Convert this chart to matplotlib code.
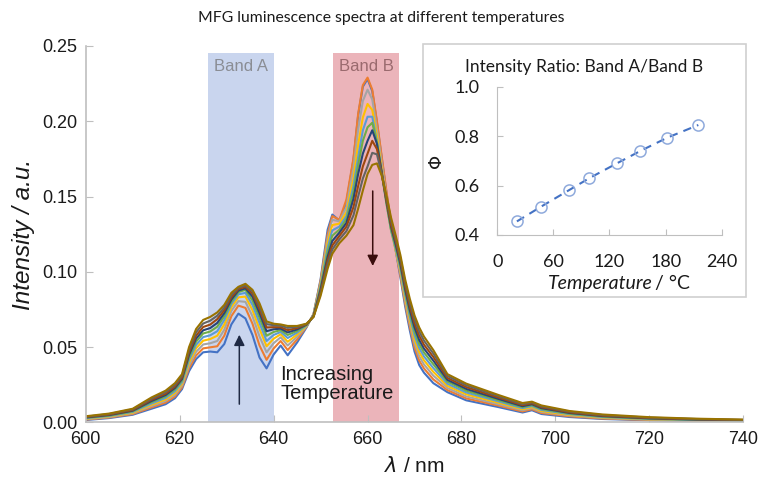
import numpy as np
import matplotlib
matplotlib.use("Agg")
import matplotlib.pyplot as plt
from matplotlib.patches import Rectangle

plt.rcParams['font.family'] = ['Liberation Sans', 'DejaVu Sans']

# wavelength grid (nm)
wavelength = [600, 605, 610, 614, 617, 619, 620.5, 622, 623.5, 625,
              626.5, 628, 629.5, 631, 632.5, 634, 635.5, 637, 638.5, 640,
              641.5, 643, 645, 647, 648.5, 650, 651.5, 652.5, 654, 655.5,
              657, 658, 659, 660, 661, 662, 663, 664, 665, 666,
              667, 668, 669, 670, 671, 672, 674, 677, 681, 688,
              693, 695, 697, 703, 710, 720, 730, 740]

# spectra, lowest temperature first
spec_1 = [.0015, .0028, .0050, .0090, .0120, .0160, .0220, .0340, .0420, .0465,
          .0470, .0465, .0520, .0650, .0722, .0690, .0580, .0430, .0358, .0450,
          .0510, .0445, .0530, .0630, .0720, .0950, .1280, .1380, .1340, .1460,
          .1745, .2040, .2230, .2280, .2200, .1990, .1760, .1530, .1320, .1140,
          .0960, .0770, .0610, .0470, .0380, .0330, .0260, .0200, .0146, .0100,
          .0065, .0080, .0055, .0035, .0022, .0013, .0008, .0005]
spec_2 = [.0018, .0032, .0055, .0099, .0131, .0172, .0232, .0359, .0444, .0491,
          .0498, .0505, .0575, .0705, .0775, .0760, .0655, .0510, .0415, .0490,
          .0540, .0480, .0550, .0635, .0718, .0940, .1250, .1370, .1345, .1480,
          .1755, .2050, .2240, .2290, .2210, .2000, .1770, .1540, .1325, .1145,
          .0975, .0790, .0635, .0498, .0410, .0358, .0285, .0214, .0159, .0110,
          .0072, .0087, .0062, .0040, .0025, .0015, .0010, .0006]
spec_3 = [.0021, .0035, .0060, .0108, .0142, .0184, .0244, .0378, .0468, .0517,
          .0525, .0540, .0615, .0740, .0805, .0800, .0705, .0570, .0465, .0525,
          .0565, .0510, .0568, .0638, .0715, .0928, .1220, .1345, .1335, .1430,
          .1690, .1945, .2135, .2210, .2145, .1945, .1725, .1500, .1300, .1140,
          .0990, .0810, .0658, .0525, .0438, .0385, .0310, .0228, .0172, .0119,
          .0080, .0094, .0069, .0045, .0029, .0017, .0012, .0008]
spec_4 = [.0024, .0039, .0064, .0117, .0152, .0196, .0256, .0398, .0492, .0542,
          .0553, .0575, .0650, .0765, .0830, .0835, .0745, .0620, .0505, .0555,
          .0585, .0535, .0583, .0641, .0712, .0916, .1190, .1310, .1320, .1395,
          .1620, .1845, .2025, .2115, .2075, .1900, .1685, .1465, .1275, .1140,
          .1005, .0830, .0680, .0552, .0466, .0412, .0335, .0242, .0186, .0129,
          .0087, .0101, .0075, .0049, .0032, .0020, .0013, .0009]
spec_5 = [.0027, .0042, .0069, .0125, .0162, .0207, .0267, .0415, .0514, .0566,
          .0578, .0605, .0680, .0785, .0850, .0860, .0780, .0660, .0540, .0580,
          .0600, .0560, .0596, .0644, .0710, .0905, .1160, .1275, .1300, .1370,
          .1570, .1763, .1940, .2030, .2030, .1865, .1660, .1455, .1275, .1150,
          .1020, .0850, .0702, .0578, .0493, .0438, .0360, .0256, .0198, .0138,
          .0094, .0108, .0082, .0054, .0035, .0022, .0015, .0010]
spec_6 = [.0030, .0045, .0073, .0134, .0172, .0218, .0278, .0433, .0536, .0590,
          .0603, .0635, .0705, .0800, .0865, .0880, .0810, .0695, .0575, .0600,
          .0612, .0580, .0607, .0646, .0707, .0893, .1130, .1240, .1280, .1350,
          .1530, .1710, .1870, .1960, .1990, .1860, .1660, .1460, .1280, .1165,
          .1035, .0868, .0724, .0605, .0520, .0464, .0385, .0270, .0210, .0146,
          .0101, .0114, .0088, .0058, .0038, .0024, .0017, .0012]
spec_7 = [.0032, .0048, .0077, .0141, .0181, .0228, .0288, .0449, .0556, .0611,
          .0626, .0660, .0725, .0815, .0875, .0890, .0835, .0725, .0605, .0618,
          .0622, .0597, .0617, .0649, .0705, .0881, .1100, .1205, .1260, .1325,
          .1485, .1650, .1785, .1870, .1940, .1850, .1665, .1475, .1300, .1180,
          .1050, .0885, .0745, .0630, .0547, .0490, .0410, .0282, .0222, .0154,
          .0107, .0120, .0094, .0062, .0041, .0026, .0018, .0013]
spec_8 = [.0035, .0051, .0081, .0149, .0190, .0238, .0298, .0465, .0576, .0633,
          .0649, .0685, .0745, .0830, .0885, .0900, .0855, .0750, .0630, .0632,
          .0632, .0612, .0626, .0651, .0703, .0868, .1075, .1175, .1238, .1300,
          .1430, .1570, .1700, .1785, .1870, .1815, .1655, .1475, .1310, .1200,
          .1070, .0905, .0768, .0657, .0575, .0516, .0434, .0295, .0234, .0163,
          .0114, .0126, .0100, .0066, .0044, .0028, .0020, .0015]
spec_9 = [.0037, .0055, .0086, .0157, .0200, .0249, .0309, .0482, .0598, .0656,
          .0675, .0708, .0762, .0845, .0893, .0910, .0870, .0770, .0652, .0645,
          .0642, .0627, .0634, .0653, .0701, .0855, .1048, .1148, .1215, .1270,
          .1375, .1500, .1620, .1700, .1790, .1780, .1650, .1495, .1340, .1220,
          .1090, .0928, .0795, .0685, .0603, .0543, .0457, .0308, .0246, .0172,
          .0121, .0132, .0106, .0071, .0048, .0031, .0022, .0016]
spec_10 = [.0040, .0058, .0090, .0165, .0210, .0260, .0320, .0500, .0620, .0680,
           .0700, .0730, .0780, .0860, .0900, .0920, .0880, .0790, .0670, .0655,
           .0650, .0640, .0640, .0655, .0700, .0840, .1020, .1120, .1190, .1240,
           .1310, .1420, .1540, .1650, .1710, .1720, .1640, .1510, .1360, .1240,
           .1110, .0950, .0820, .0710, .0630, .0570, .0480, .0320, .0257, .0180,
           .0128, .0137, .0112, .0075, .0052, .0034, .0024, .0018]

# inset: ratio band A / band B
temperature = [21, 47, 77, 98, 128, 153, 182, 215]
ratio = [0.455, 0.515, 0.582, 0.629, 0.690, 0.740, 0.794, 0.845]

band_a = (626, 640)
band_b = (652.7, 666.7)

colors = ['#4472C4', '#ED7D31', '#A5A5A5', '#FFC000', '#5B9BD5',
          '#70AD47', '#264478', '#9E480E', '#636363', '#997300']
spectra = [spec_1, spec_2, spec_3, spec_4, spec_5,
           spec_6, spec_7, spec_8, spec_9, spec_10]

fig = plt.figure(figsize=(7.62, 4.83), dpi=100)
ax = fig.add_axes([0.1125, 0.1257, 0.863, 0.7791])

ax.axvspan(band_a[0], band_a[1], ymin=0, ymax=0.981, color='#C9D5EE', lw=0, zorder=0)
ax.axvspan(band_b[0], band_b[1], ymin=0, ymax=0.981, color='#EBB4BA', lw=0, zorder=0)
ax.text(sum(band_a) / 2, 0.2365, 'Band A', ha='center', va='center', fontsize=12, color='#8a8d94')
ax.text(sum(band_b) / 2, 0.2365, 'Band B', ha='center', va='center', fontsize=12, color='#9a6a6e')

for s, c in zip(spectra, colors):
    ax.plot(wavelength, s, color=c, lw=1.5, zorder=2, solid_joinstyle='round')

ax.annotate('', xy=(632.7, 0.060), xytext=(632.7, 0.0102),
            arrowprops=dict(arrowstyle='-|>', color='#1f2a44', lw=1.1, mutation_scale=16))
ax.annotate('', xy=(661.1, 0.102), xytext=(661.1, 0.1555),
            arrowprops=dict(arrowstyle='-|>', color='#3a0d0d', lw=1.1, mutation_scale=16))
ax.text(641.4, 0.0256, 'Increasing\nTemperature', ha='left', va='center',
        fontsize=14.5, color='#1a1a1a', linespacing=1.0)

ax.set_xlim(600, 740)
ax.set_ylim(0, 0.25)
ax.set_xticks(np.arange(600, 741, 20))
ax.set_yticks(np.arange(0, 0.251, 0.05))
ax.yaxis.set_major_formatter(matplotlib.ticker.FormatStrFormatter('%.2f'))
ax.tick_params(direction='in', length=5, color='#bfbfbf', labelsize=13, labelcolor='#1a1a1a', pad=6)
for side in ['top', 'right']:
    ax.spines[side].set_visible(False)
for side in ['left', 'bottom']:
    ax.spines[side].set_color('#bfbfbf')
    ax.spines[side].set_linewidth(1.2)
ax.set_xlabel(r'$\lambda$ / nm', fontsize=15, color='#1a1a1a', labelpad=6)
ax.set_ylabel('Intensity / a.u.', fontsize=17.5, style='italic', color='#1a1a1a', labelpad=5)

fig.text(0.5, 0.963, 'MFG luminescence spectra at different temperatures',
         ha='center', va='center', fontsize=11.3, family='Lato', color='#1a1a1a')

# inset
box = Rectangle((0.555, 0.385), 0.424, 0.524, transform=fig.transFigure,
                facecolor='white', edgecolor='#d0d0d0', lw=1.2, zorder=3)
fig.patches.append(box)

ins = fig.add_axes([0.6526, 0.5135, 0.2945, 0.307], zorder=4)
ins.patch.set_alpha(0)
ins.plot(temperature, ratio, '--', color='#4472C4', lw=1.5, dashes=(4, 3))
ins.plot(temperature, ratio, 'o', ms=8, mfc='none', mec='#8FAADC', mew=1.1)
ins.set_xlim(0, 240)
ins.set_ylim(0.4, 1.0)
ins.set_xticks(np.arange(0, 241, 60))
ins.set_yticks([0.4, 0.6, 0.8, 1.0])
ins.yaxis.set_major_formatter(matplotlib.ticker.FormatStrFormatter('%.1f'))
ins.tick_params(direction='in', length=4, color='#bfbfbf', labelsize=13, labelcolor='#1a1a1a')
ins.tick_params(axis='y', pad=13)
ins.tick_params(axis='x', pad=14)
for lab in ins.get_xticklabels() + ins.get_yticklabels():
    lab.set_family('Lato')
for side in ['top', 'right']:
    ins.spines[side].set_visible(False)
for side in ['left', 'bottom']:
    ins.spines[side].set_color('#bfbfbf')

fig.text(584 / 762, 1 - 67 / 483, 'Intensity Ratio: Band A/Band B', ha='center', va='center',
         fontsize=12.5, family='Lato', color='#1a1a1a', zorder=5)
fig.text(438 / 762, 1 - 162 / 483, r'$\Phi$', rotation=90, ha='center', va='center',
         fontsize=13, color='#1a1a1a', zorder=5)
fig.text(653 / 762, 1 - 283 / 483, 'Temperature', ha='right', va='center', style='italic',
         fontsize=14, family='Lato', color='#1a1a1a', zorder=5)
fig.text(655 / 762, 1 - 283 / 483, '/ °C', ha='left', va='center',
         fontsize=14, family='Lato', color='#1a1a1a', zorder=5)

fig.savefig('out.png', dpi=100)
